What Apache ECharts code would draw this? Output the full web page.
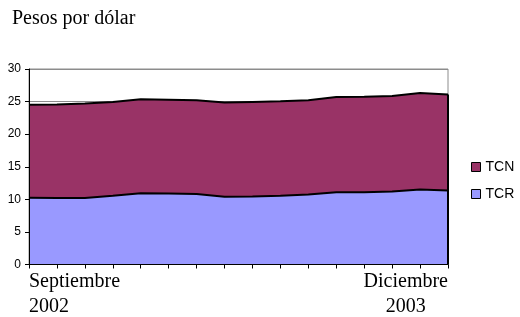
<!DOCTYPE html>
<html>
<head>
<meta charset="utf-8">
<script src="https://cdn.jsdelivr.net/npm/echarts@6/dist/echarts.min.js"></script>
<style>
  html, body { margin: 0; padding: 0; background: #fff; }
  #chart { width: 520px; height: 317px; }
</style>
</head>
<body>
<div id="chart"></div>
<script>
const months = [
  'Septiembre 2002', 'Octubre 2002', 'Noviembre 2002', 'Diciembre 2002',
  'Enero 2003', 'Febrero 2003', 'Marzo 2003', 'Abril 2003',
  'Mayo 2003', 'Junio 2003', 'Julio 2003', 'Agosto 2003',
  'Septiembre 2003', 'Octubre 2003', 'Noviembre 2003', 'Diciembre 2003'
];
const tcn = [24.5, 24.55, 24.7, 24.95, 25.35, 25.3, 25.2, 24.85,
             24.95, 25.05, 25.2, 25.7, 25.75, 25.85, 26.3, 26.1];
const tcr = [10.25, 10.2, 10.2, 10.55, 10.95, 10.9, 10.8, 10.4,
             10.45, 10.55, 10.75, 11.1, 11.1, 11.2, 11.5, 11.35];
const yTicks = [0, 5, 10, 15, 20, 25, 30];

const serif = 'Liberation Serif';
const sans = 'Liberation Sans';
const last = months.length - 1;
const yMin = yTicks[0], yMax = yTicks[yTicks.length - 1];

const chart = echarts.init(document.getElementById('chart'));
chart.setOption({
  animation: false,
  title: {
    text: 'Pesos por dólar',
    left: 7,
    top: 4,
    textStyle: {fontFamily: serif, fontSize: 20, fontWeight: 'normal', color: '#000'}
  },
  legend: {
    data: ['TCN', 'TCR'],
    orient: 'vertical',
    left: 471,
    top: 158,
    padding: 0,
    icon: 'rect',
    itemWidth: 9,
    itemHeight: 9,
    itemGap: 9,
    itemStyle: {borderColor: '#000', borderWidth: 1},
    textStyle: {fontFamily: sans, fontSize: 14, lineHeight: 18, color: '#000'}
  },
  grid: {
    left: 29, top: 69, width: 419, height: 196,
    show: true, borderColor: '#8c8c8c', borderWidth: 1, backgroundColor: 'transparent'
  },
  xAxis: {
    type: 'category',
    data: months,
    boundaryGap: false,
    z: 5,
    axisLine: {lineStyle: {color: '#000', width: 1}},
    axisTick: {show: true, interval: 0, length: 4, lineStyle: {color: '#000'}},
    axisLabel: {
      interval: 0,
      margin: 5,
      alignMinLabel: 'left',
      alignMaxLabel: 'right',
      formatter(val, idx) {
        const parts = val.split(' ');
        if (idx === 0) return '{a|' + parts[0] + '}\n{a|' + parts[1] + '}';
        if (idx === last) return '{a|' + parts[0] + '}\n{b|' + parts[1] + '}';
        return '';
      },
      rich: {
        a: {fontFamily: serif, fontSize: 20, lineHeight: 25, color: '#000'},
        b: {fontFamily: serif, fontSize: 20, lineHeight: 25, color: '#000', align: 'center'}
      }
    },
    splitLine: {show: false}
  },
  yAxis: [
    {
      // gridlines only, kept behind the areas
      type: 'value',
      min: yMin, max: yMax, interval: 5,
      axisLine: {show: false},
      axisTick: {show: false},
      axisLabel: {show: false},
      splitLine: {show: true, lineStyle: {color: '#8c8c8c', width: 1}}
    },
    {
      // visible axis on top of the areas
      type: 'value',
      position: 'left',
      min: yMin, max: yMax, interval: 5,
      z: 5,
      axisLine: {show: true, lineStyle: {color: '#000', width: 1}},
      axisTick: {show: true, length: 4, lineStyle: {color: '#000'}},
      axisLabel: {fontFamily: sans, fontSize: 12, color: '#000', margin: 8},
      splitLine: {show: false}
    }
  ],
  series: [
    {
      name: 'TCN',
      type: 'line',
      yAxisIndex: 0,
      data: tcn,
      symbol: 'none',
      itemStyle: {color: '#993366'},
      lineStyle: {color: '#000', width: 2},
      areaStyle: {color: '#993366', opacity: 1},
      markLine: {
        silent: true,
        symbol: 'none',
        label: {show: false},
        lineStyle: {color: '#000', width: 2, type: 'solid'},
        data: [[{coord: [last, 0]}, {coord: [last, tcn[last]]}]]
      }
    },
    {
      name: 'TCR',
      type: 'line',
      yAxisIndex: 0,
      data: tcr,
      symbol: 'none',
      itemStyle: {color: '#9999ff'},
      lineStyle: {color: '#000', width: 2},
      areaStyle: {color: '#9999ff', opacity: 1}
    }
  ]
});
</script>
</body>
</html>
